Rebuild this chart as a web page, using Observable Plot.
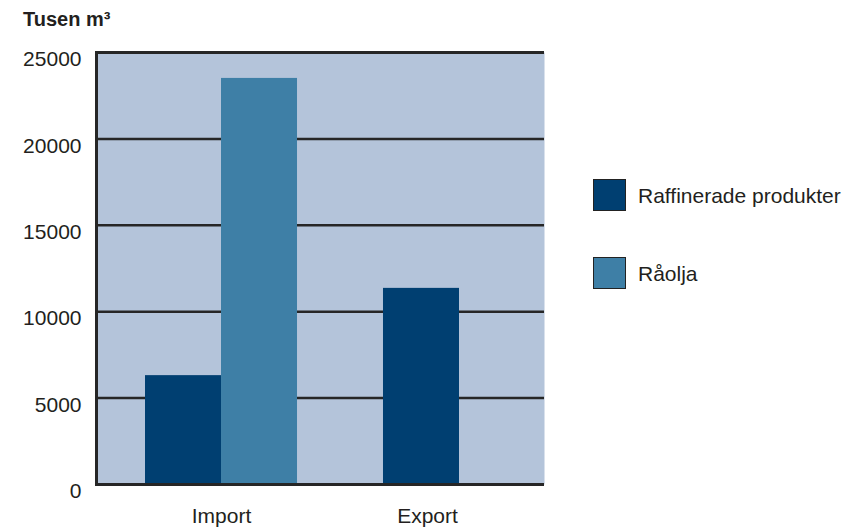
<!DOCTYPE html>
<html><head><meta charset="utf-8">
<script src="https://cdn.jsdelivr.net/npm/d3@7"></script>
<script src="https://cdn.jsdelivr.net/npm/@observablehq/plot@0.6"></script>
<style>
body{margin:0;background:#fff;font-family:"Liberation Sans",Arial,sans-serif;color:#231f20}
#wrap{position:relative;width:845px;height:527px}
#title{position:absolute;left:23px;top:9px;font-size:20px;font-weight:bold;line-height:1;white-space:nowrap}
.leg{position:absolute;left:593px;display:flex;align-items:center;font-size:21px;line-height:1;white-space:nowrap}
.sw{width:31px;height:30px;border:1px solid #222;margin-right:12px;box-sizing:content-box}
</style></head><body>
<div id="wrap"><div id="title">Tusen m³</div></div>
<script>
const categories = ["Import", "Export"];
const series = ["Raffinerade produkter", "Råolja"];
const raffinerade = [6300, 11350];
const raolja = [23500, 0];
const yTicks = [0, 5000, 10000, 15000, 20000, 25000];
const colors = ["#003f71", "#3e7fa6"];

const rowsR = categories.map((c, i) => ({kategori: c, serie: series[0], value: raffinerade[i]}));
const rowsO = categories.map((c, i) => ({kategori: c, serie: series[1], value: raolja[i]}));

const chart = Plot.plot({
  width: 845,
  height: 527,
  marginLeft: 96,
  marginRight: 301,
  marginTop: 52,
  marginBottom: 43,
  style: {fontFamily: '"Liberation Sans", Arial, sans-serif', fontSize: "21px", color: "#231f20", background: "transparent"},
  x: {domain: categories, range: [145, 535], paddingInner: 0.3613, paddingOuter: 0, round: false, label: null},
  y: {domain: [0, 25000], label: null},
  color: {domain: series, range: colors},
  marks: [
    Plot.frame({fill: "#b4c4da", stroke: null}),
    Plot.ruleY(yTicks.slice(1, -1), {stroke: "#262626", strokeWidth: 2.5}),
    Plot.barY(rowsR, {x: "kategori", y: "value", fill: "serie", insetRight: 76}),
    Plot.barY(rowsO, {x: "kategori", y: "value", fill: "serie", insetLeft: 76}),
    Plot.ruleY([yTicks[0], yTicks[yTicks.length - 1]], {stroke: "#262626", strokeWidth: 3}),
    Plot.frame({anchor: "left", stroke: "#262626", strokeWidth: 3}),
    Plot.axisY(yTicks, {tickSize: 0, tickPadding: 15, dy: 7, tickFormat: "d", label: null, fontSize: 21}),
    Plot.axisX([categories[0]], {tickSize: 0, tickPadding: 24, label: null, fontSize: 21}),
    Plot.axisX([categories[1]], {tickSize: 0, tickPadding: 24, dx: -32, label: null, fontSize: 21})
  ]
});
const wrap = document.getElementById("wrap");
wrap.insertBefore(chart, wrap.firstChild);

const legTops = [179, 257];
series.forEach((s, i) => {
  const d = document.createElement("div");
  d.className = "leg";
  d.style.top = legTops[i] + "px";
  const sw = document.createElement("div");
  sw.className = "sw";
  sw.style.background = colors[i];
  const t = document.createElement("span");
  t.textContent = s;
  d.appendChild(sw);
  d.appendChild(t);
  wrap.appendChild(d);
});
</script>
</body></html>
